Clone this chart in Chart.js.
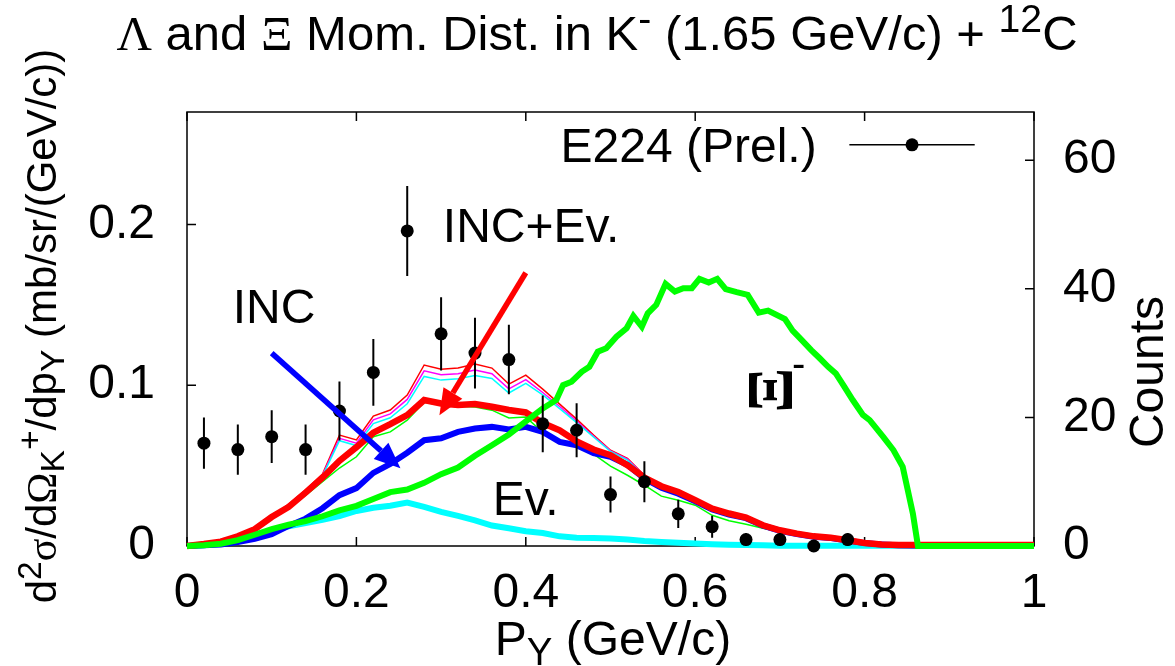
<!DOCTYPE html>
<html>
<head>
<meta charset="utf-8">
<title>Lambda and Xi momentum distribution</title>
<script src="https://cdn.jsdelivr.net/npm/chart.js@4.4.1/dist/chart.umd.min.js"></script>
<style>
  html, body { margin: 0; padding: 0; background: #fff; }
  #wrap { width: 1175px; height: 666px; }
</style>
</head>
<body>
<div id="wrap"><canvas id="momChart" width="1175" height="666"></canvas></div>
<script>
// momentum grid of the calculated spectra (GeV/c)
var pGrid = [0, 0.02, 0.04, 0.06, 0.08, 0.10, 0.12, 0.14, 0.16, 0.18, 0.20, 0.22, 0.24, 0.26, 0.28, 0.30, 0.32, 0.34, 0.36, 0.38,
  0.40, 0.42, 0.44, 0.46, 0.48, 0.50, 0.52, 0.54, 0.56, 0.58, 0.60, 0.62, 0.64, 0.66, 0.68, 0.70, 0.72, 0.74, 0.76, 0.78,
  0.80, 0.82, 0.84, 0.86, 0.88, 0.90, 0.92, 0.94, 0.96, 0.98, 1.00];

// Lambda spectra, mb/sr/(GeV/c)
var incEv = [0, 0.0012, 0.0027, 0.006, 0.0105, 0.018, 0.0243, 0.0332, 0.0425, 0.053, 0.0615, 0.0705, 0.0758, 0.0814, 0.0908, 0.0887, 0.0877, 0.0883, 0.0866, 0.0846,
  0.0831, 0.0765, 0.072, 0.065, 0.06, 0.0565, 0.0503, 0.0426, 0.0372, 0.0336, 0.0285, 0.0233, 0.0202, 0.0177, 0.0129, 0.0098, 0.0077, 0.006, 0.0052, 0.0036,
  0.0019, 0.001, 0.0006, 0.0006, 0.0006, 0.0006, 0.0006, 0.0006, 0.0006, 0.0006, 0.0006];
var incOnly = [0, 0.0004, 0.001, 0.0025, 0.0045, 0.0073, 0.0125, 0.017, 0.0235, 0.0316, 0.036, 0.0455, 0.051, 0.058, 0.0658, 0.067, 0.071, 0.0731, 0.0741, 0.0725,
  0.0741, 0.071, 0.0648, 0.0627, 0.0578, 0.0555, 0.0505, 0.042, 0.0362, 0.0325, 0.0278, 0.0228, 0.0196, 0.0173, 0.0126, 0.0095, 0.0074, 0.0058, 0.0049, 0.0034,
  0.0018, 0.001, 0.0004, 0.0003, 0.0003, 0.0003, 0.0003, 0.0003, 0.0003, 0.0003, 0.0003];
var evOnly = [0, 0.0004, 0.0017, 0.0036, 0.0069, 0.0098, 0.0122, 0.0143, 0.0163, 0.0186, 0.0218, 0.0238, 0.025, 0.027, 0.0243, 0.0212, 0.0187, 0.016, 0.0127, 0.011,
  0.0092, 0.0081, 0.006, 0.0052, 0.005, 0.0046, 0.004, 0.0031, 0.0025, 0.002, 0.0015, 0.0011, 0.0008, 0.0006, 0.0004, 0.0002, 0.0002, 0.0002, 0.0002, 0.0002,
  0.0002, 0.0002, 0.0002, 0.0002, 0.0002, 0.0002, 0.0002, 0.0002, 0.0002, 0.0002, 0.0002];

// thin variants of INC+Ev.
var thinRed = [0, 0.0012, 0.0027, 0.006, 0.0107, 0.0185, 0.026, 0.035, 0.0447, 0.069, 0.066, 0.0808, 0.0846, 0.0939, 0.1126, 0.110, 0.1107, 0.1132, 0.1107, 0.1007,
  0.1063, 0.0976, 0.0883, 0.0789, 0.069, 0.0596, 0.0545, 0.044, 0.0378, 0.034, 0.029, 0.0237, 0.0205, 0.018, 0.0132, 0.01, 0.0079, 0.0062, 0.0053, 0.0037,
  0.002, 0.001, 0.0006, 0.0006, 0.0006, 0.0006, 0.0006, 0.0006, 0.0006, 0.0006, 0.0006];
var thinMagenta = [0, 0.0012, 0.0027, 0.006, 0.0107, 0.0185, 0.0257, 0.0345, 0.0442, 0.067, 0.064, 0.0785, 0.0822, 0.0912, 0.109, 0.1065, 0.1072, 0.1095, 0.1072, 0.0978,
  0.1035, 0.0955, 0.0868, 0.0778, 0.0683, 0.0592, 0.054, 0.0437, 0.0375, 0.0338, 0.0288, 0.0235, 0.0204, 0.0179, 0.0131, 0.0099, 0.0078, 0.0061, 0.0052, 0.0036,
  0.0019, 0.001, 0.0006, 0.0006, 0.0006, 0.0006, 0.0006, 0.0006, 0.0006, 0.0006, 0.0006];
var thinCyan = [0, 0.0012, 0.0027, 0.006, 0.0107, 0.0185, 0.0254, 0.034, 0.0435, 0.0655, 0.0625, 0.0762, 0.0798, 0.0885, 0.1055, 0.1032, 0.104, 0.106, 0.1042, 0.0952,
  0.1012, 0.094, 0.0855, 0.0768, 0.0678, 0.0588, 0.0535, 0.0434, 0.0373, 0.0336, 0.0286, 0.0234, 0.0203, 0.0178, 0.013, 0.0098, 0.0077, 0.006, 0.0051, 0.0035,
  0.0018, 0.0009, 0.0005, 0.0005, 0.0005, 0.0005, 0.0005, 0.0005, 0.0005, 0.0005, 0.0005];
var thinGreen = [0, 0.0011, 0.0026, 0.0055, 0.0102, 0.0168, 0.0235, 0.0315, 0.04, 0.0485, 0.0555, 0.068, 0.071, 0.0783, 0.0895, 0.0877, 0.087, 0.0864, 0.0845, 0.0796,
  0.0802, 0.0708, 0.0652, 0.0627, 0.0571, 0.0497, 0.044, 0.0378, 0.031, 0.0285, 0.0254, 0.0191, 0.0157, 0.0135, 0.011, 0.0088, 0.0076, 0.0057, 0.0039, 0.0023,
  0.001, 0.0004, 0, 0, 0, 0, 0, 0, 0, 0, 0];

// Xi- spectrum (own momentum points)
var xiP = [0, 0.02, 0.04, 0.06, 0.08, 0.10, 0.12, 0.14, 0.16, 0.18, 0.20, 0.22, 0.24, 0.26, 0.28, 0.30, 0.32, 0.34, 0.36, 0.38, 0.40, 0.42,
  0.436, 0.444, 0.454, 0.466, 0.475, 0.485, 0.495, 0.507, 0.519, 0.527, 0.537, 0.544, 0.554, 0.565, 0.576, 0.586, 0.596, 0.605, 0.616, 0.626,
  0.636, 0.649, 0.662, 0.675, 0.686, 0.706, 0.715, 0.725, 0.737, 0.747, 0.757, 0.766, 0.776, 0.786, 0.798, 0.806, 0.822, 0.834, 0.845, 0.857,
  0.863, 0.90, 1.0];
var xiVal = [0, 0.0004, 0.0014, 0.0036, 0.007, 0.0105, 0.0133, 0.0155, 0.0185, 0.0222, 0.025, 0.0292, 0.0335, 0.0351, 0.0393, 0.0447, 0.0488, 0.0561, 0.0627, 0.0694, 0.0775, 0.0856,
  0.0908, 0.1001, 0.1022, 0.1084, 0.1115, 0.1209, 0.123, 0.1302, 0.1355, 0.1431, 0.1364, 0.1448, 0.15, 0.1631, 0.1583, 0.1604, 0.1604, 0.1662, 0.1639, 0.1662,
  0.1598, 0.1579, 0.1562, 0.1452, 0.1464, 0.1411, 0.134, 0.1286, 0.1219, 0.1168, 0.1115, 0.1074, 0.0991, 0.0908, 0.0815, 0.0783, 0.0679, 0.0597, 0.0492, 0.0202,
  0, 0, 0];

// E224 preliminary data, counts (right axis)
var dataP = [0.02, 0.06, 0.10, 0.14, 0.18, 0.22, 0.26, 0.30, 0.34, 0.38, 0.42, 0.46, 0.50, 0.54, 0.58, 0.62, 0.66, 0.70, 0.74, 0.78];
var counts = [16, 15, 17, 15, 21, 27, 49, 33, 30, 29, 19, 18, 8, 10, 5, 3, 1, 1, 0, 1];
var countErr = [4, 3.9, 4.1, 3.9, 4.6, 5.2, 7, 5.7, 5.5, 5.4, 4.4, 4.2, 2.8, 3.2, 2.2, 1.7, 1, 1, 0, 1];

// axis ticks
var xTickStep = 0.2, yTickStep = 0.1, countTickStep = 20;

var SANS = 'Liberation Sans', SERIF = 'Liberation Serif';

// annotations, in (p, left axis) coordinates
var notes = {
  incArrow: [0.100, 0.120, 0.252, 0.0484],
  sumArrow: [0.400, 0.170, 0.298, 0.0814],
  incText: [0.054, 0.139],
  sumText: [0.302, 0.189],
  evText: [0.361, 0.019],
  xiText: [0.692, 0.097],
  keyText: [0.7434, 0.239],
  keyLine: [0.782, 0.930, 0.2496],
  keyDot: 0.856
};

function pairs(xs, ys) {
  return xs.map(function (x, i) { return { x: x, y: ys[i] }; });
}

function curve(ys, color, width, xs) {
  return {
    data: pairs(xs || pGrid, ys),
    borderColor: color,
    backgroundColor: color,
    borderWidth: width,
    pointRadius: 0,
    fill: false,
    tension: 0,
    clip: false,
    yAxisID: 'y'
  };
}

function richText(ctx, parts, x, y, size, align, angle) {
  ctx.save();
  ctx.translate(x, y);
  if (angle) ctx.rotate(angle);
  ctx.textAlign = 'left';
  ctx.textBaseline = 'alphabetic';
  ctx.fillStyle = '#000';
  var total = 0;
  parts.forEach(function (p) {
    ctx.font = (p[1] ? size * 0.8 : size) + 'px "' + (p[2] || SANS) + '"';
    p.w = ctx.measureText(p[0]).width;
    total += p.w;
  });
  var cx = align === 'center' ? -total / 2 : (align === 'right' ? -total : 0);
  parts.forEach(function (p) {
    ctx.font = (p[1] ? size * 0.8 : size) + 'px "' + (p[2] || SANS) + '"';
    var dy = p[1] === 'sup' ? -0.36 * size : (p[1] === 'sub' ? 0.2 * size : 0);
    ctx.fillText(p[0], cx, dy);
    cx += p.w;
  });
  ctx.restore();
}

function arrow(ctx, x0, y0, x1, y1, color) {
  var a = Math.atan2(y1 - y0, x1 - x0), L = 26, H = 11;
  var bx = x1 - L * Math.cos(a), by = y1 - L * Math.sin(a);
  ctx.save();
  ctx.strokeStyle = color;
  ctx.fillStyle = color;
  ctx.lineWidth = 5.5;
  ctx.beginPath();
  ctx.moveTo(x0, y0);
  ctx.lineTo(bx, by);
  ctx.stroke();
  ctx.beginPath();
  ctx.moveTo(x1, y1);
  ctx.lineTo(bx + H * Math.sin(a), by - H * Math.cos(a));
  ctx.lineTo(bx - H * Math.sin(a), by + H * Math.cos(a));
  ctx.closePath();
  ctx.fill();
  ctx.restore();
}

var decor = {
  id: 'decor',
  beforeDraw: function (chart) {
    var c = chart.ctx;
    c.save();
    c.fillStyle = '#fff';
    c.fillRect(0, 0, chart.width, chart.height);
    c.restore();
  },
  beforeDatasetsDraw: function (chart) {
    var c = chart.ctx, a = chart.chartArea, s = chart.scales;
    c.save();
    c.strokeStyle = '#000';
    c.lineWidth = 1.5;
    c.strokeRect(a.left, a.top, a.right - a.left, a.bottom - a.top);
    c.beginPath();
    s.x.ticks.forEach(function (t) {
      var px = s.x.getPixelForValue(t.value);
      c.moveTo(px, a.bottom); c.lineTo(px, a.bottom - 9);
      c.moveTo(px, a.top); c.lineTo(px, a.top + 9);
    });
    s.y.ticks.forEach(function (t) {
      var py = s.y.getPixelForValue(t.value);
      c.moveTo(a.left, py); c.lineTo(a.left + 9, py);
    });
    s.y2.ticks.forEach(function (t) {
      var py = s.y2.getPixelForValue(t.value);
      c.moveTo(a.right, py); c.lineTo(a.right - 9, py);
    });
    c.stroke();
    c.restore();
  },
  afterDatasetsDraw: function (chart) {
    var c = chart.ctx, s = chart.scales;
    var X = function (v) { return s.x.getPixelForValue(v); };
    var Y = function (v) { return s.y.getPixelForValue(v); };

    // error bars of the E224 points
    c.save();
    c.strokeStyle = '#000';
    c.lineWidth = 2;
    c.beginPath();
    dataP.forEach(function (p, i) {
      var px = X(p);
      c.moveTo(px, s.y2.getPixelForValue(counts[i] - countErr[i]));
      c.lineTo(px, s.y2.getPixelForValue(counts[i] + countErr[i]));
    });
    c.stroke();
    c.restore();

    var n = notes;
    arrow(c, X(n.incArrow[0]), Y(n.incArrow[1]), X(n.incArrow[2]), Y(n.incArrow[3]), '#0000ff');
    arrow(c, X(n.sumArrow[0]), Y(n.sumArrow[1]), X(n.sumArrow[2]), Y(n.sumArrow[3]), '#ff0000');

    richText(c, [['INC']], X(n.incText[0]), Y(n.incText[1]), 48, 'left');
    richText(c, [['INC+Ev.']], X(n.sumText[0]), Y(n.sumText[1]), 48, 'left');
    richText(c, [['Ev.']], X(n.evText[0]), Y(n.evText[1]), 48, 'left');

    // Xi- label, glyph turned on its side
    var xx = X(n.xiText[0]), xy = Y(n.xiText[1]);
    c.save();
    c.translate(xx, xy);
    c.rotate(-Math.PI / 2);
    c.font = 'bold 66px "' + SERIF + '"';
    c.textAlign = 'center';
    c.textBaseline = 'middle';
    c.fillStyle = '#000';
    c.fillText('Ξ', 0, 2);
    c.restore();
    richText(c, [['-']], xx + 19, xy - 13, 40, 'left');

    // key
    richText(c, [['E224 (Prel.)']], X(n.keyText[0]), Y(n.keyText[1]), 48, 'right');
    c.save();
    c.strokeStyle = '#000';
    c.lineWidth = 1.5;
    c.beginPath();
    c.moveTo(X(n.keyLine[0]), Y(n.keyLine[2]));
    c.lineTo(X(n.keyLine[1]), Y(n.keyLine[2]));
    c.stroke();
    c.fillStyle = '#000';
    c.beginPath();
    c.arc(X(n.keyDot), Y(n.keyLine[2]), 6.5, 0, Math.PI * 2);
    c.fill();
    c.restore();
  },
  afterDraw: function (chart) {
    var c = chart.ctx;
    richText(c, [['Λ', '', SERIF], [' and '], ['Ξ', '', SERIF], [' Mom. Dist. in K'], ['-', 'sup'],
      [' (1.65 GeV/c) + '], ['12', 'sup'], ['C']], 597, 50, 49, 'center');
    richText(c, [['P'], ['Y', 'sub'], [' (GeV/c)']], 613, 655, 48, 'center');
    richText(c, [['d'], ['2', 'sup'], ['σ', '', SERIF], ['/d'], ['Ω', '', SERIF], ['K', 'sub'], ['+', 'sup'],
      ['/dp'], ['Y', 'sub'], [' (mb/sr/(GeV/c))']], 56, 326, 42, 'center', -Math.PI / 2);
    richText(c, [['Counts']], 1163, 372, 48, 'center', -Math.PI / 2);
  }
};

var tickFont = { family: SANS, size: 48 };
var plainNumber = function (v) { return String(Math.round(v * 100) / 100); };

var ctx = document.getElementById('momChart').getContext('2d');
var momChart = new Chart(ctx, {
  type: 'line',
  data: {
    datasets: [
      {
        data: pairs(dataP, counts),
        yAxisID: 'y2',
        showLine: false,
        pointRadius: 6.5,
        pointBackgroundColor: '#000',
        pointBorderWidth: 0,
        clip: false
      },
      curve(xiVal, '#00ff00', 6, xiP),
      curve(incEv, '#ff0000', 6.5),
      curve(incOnly, '#0000ff', 6),
      curve(evOnly, '#00ffff', 6),
      curve(thinGreen, '#00ff00', 1.5),
      curve(thinCyan, '#00ffff', 1.5),
      curve(thinMagenta, '#ff00ff', 1.5),
      curve(thinRed, '#ff0000', 1.5)
    ]
  },
  options: {
    responsive: false,
    animation: false,
    events: [],
    layout: { padding: { top: 112, left: 0, right: 0, bottom: 0 } },
    plugins: {
      legend: { display: false },
      tooltip: { enabled: false }
    },
    scales: {
      x: {
        type: 'linear',
        min: 0,
        max: 1,
        grid: { display: false, drawTicks: false },
        border: { display: false },
        ticks: { stepSize: xTickStep, includeBounds: false, autoSkip: false, maxRotation: 0, padding: 19, color: '#000', font: tickFont, callback: plainNumber },
        afterFit: function (scale) { scale.height = 120; }
      },
      y: {
        position: 'left',
        min: 0,
        max: 0.27,
        grid: { display: false, drawTicks: false },
        border: { display: false },
        ticks: { stepSize: yTickStep, includeBounds: false, padding: 32, color: '#000', font: tickFont, callback: plainNumber },
        afterFit: function (scale) { scale.width = 187; }
      },
      y2: {
        position: 'right',
        min: 0,
        max: 67.5,
        grid: { display: false, drawTicks: false },
        border: { display: false },
        ticks: { stepSize: countTickStep, includeBounds: false, padding: 29, color: '#000', font: tickFont, callback: plainNumber },
        afterFit: function (scale) { scale.width = 141; }
      }
    }
  },
  plugins: [decor]
});
</script>
</body>
</html>
